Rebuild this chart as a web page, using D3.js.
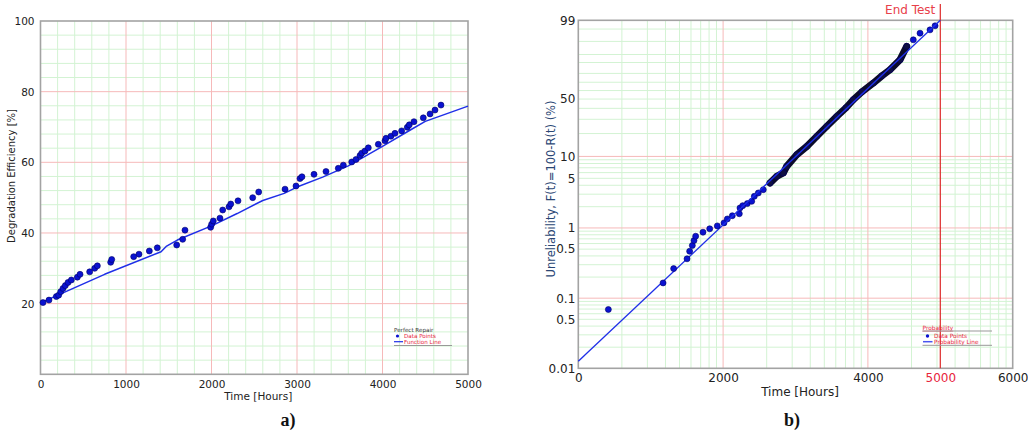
<!DOCTYPE html>
<html>
<head>
<meta charset="utf-8">
<script src="https://cdn.jsdelivr.net/npm/d3@7"></script>
<style>
  body { margin: 0; background: #fff; }
  svg { display: block; font-family: "DejaVu Sans", sans-serif; }
</style>
</head>
<body>
<svg id="chart" width="1028" height="432"></svg>
<script>
// ---------- panel a) degradation efficiency ----------
const effTime = [29, 99, 185, 212, 236, 263, 290, 322, 361, 431, 462, 575, 634, 665, 821, 833,
  1090, 1152, 1273, 1366, 1593, 1663, 1690, 1990, 2002, 2021, 2099, 2131, 2205, 2225, 2310,
  2482, 2552, 2860, 2988, 3035, 3058, 3199, 3339, 3483, 3542, 3640, 3690, 3737, 3757, 3795,
  3834, 3951, 4029, 4041, 4099, 4146, 4224, 4290, 4313, 4368, 4477, 4556, 4614, 4684];
const effValue = [20.3, 21.0, 22.0, 22.4, 23.4, 24.3, 25.1, 26.0, 26.7, 27.5, 28.3, 29.0, 30.0, 30.7, 31.7, 32.5,
  33.3, 34.0, 34.9, 35.8, 36.6, 38.2, 40.8, 41.6, 42.5, 43.4, 44.2, 46.5, 47.4, 48.2, 49.1,
  50.0, 51.6, 52.4, 53.3, 55.4, 55.9, 56.6, 57.4, 58.3, 59.2, 60.1, 60.8, 61.9, 62.6, 63.2,
  64.1, 65.1, 66.1, 66.8, 67.4, 68.2, 68.9, 69.9, 70.6, 71.5, 72.6, 73.7, 74.8, 76.2];
const fnTime = [0, 750, 1410, 1470, 1600, 2000, 2300, 2600, 2850, 3000, 3300, 3600, 4000, 4300, 4500, 5000];
const fnValue = [20.2, 28.3, 34.7, 36.2, 38.0, 42.0, 45.5, 49.2, 51.2, 53.0, 55.8, 59.0, 64.5, 68.8, 71.6, 75.9];
const effXTicks = [0, 1000, 2000, 3000, 4000, 5000];
const effYTicks = [20, 40, 60, 80, 100];

// ---------- panel b) unreliability (Weibull probability paper) ----------
const probTime = [415, 1171, 1317, 1502, 1538, 1575, 1598, 1621, 1722, 1815, 1920];
const probValue = [0.069, 0.165, 0.264, 0.364, 0.466, 0.563, 0.662, 0.763, 0.870, 0.973, 1.07];
const bandTime = [2012, 2058, 2127, 2224, 2233, 2271, 2334, 2395, 2431, 2486, 2555, 2648, 2740, 2832,
  2878, 3017, 3155, 3293, 3431, 3569, 3698, 3798, 3919, 4075, 4195, 4305, 4443, 4536, 4627, 4720, 4858, 4928];
const bandValue = [1.18, 1.34, 1.49, 1.59, 1.92, 2.07, 2.21, 2.38, 2.80, 3.12, 3.47, 4.31, 5.32, 5.93,
  7.31, 10.55, 13.6, 18.4, 24.6, 32.4, 40.6, 49.2, 58.6, 69.0, 77.5, 83.7, 91.9, 98.0, 99.22, 99.76, 99.88, 99.954];
const lineTime = [0, 5000];
const lineValue = [0.0126, 99.99];
const probXTicks = [0, 2000, 4000, 5000, 6000];
const probYTicks = [0.01, 0.05, 0.1, 0.5, 1, 5, 10, 50, 99.99];
const probYLabels = ["0.01", "0.5", "0.1", "0.5", "1", "5", "10", "50", "99"];
const endTest = 5000;

const svg = d3.select("#chart");
const majorColor = "#f6b9b9", minorColor = "#d3f3d3", frameColor = "#a3a3a3";
const dotFill = "#0a12d0", dotEdge = "#000066";

// ================= panel a =================
const xA = d3.scaleLinear().domain([0, 5000]).range([40.5, 468]);
const yA = d3.scaleLinear().domain([0, 100]).range([374.3, 21]);
const gA = svg.append("g");

// minor grid
gA.append("g").selectAll("line").data(d3.range(200, 5000, 200).filter(d => d % 1000))
  .join("line")
  .attr("x1", d => xA(d)).attr("x2", d => xA(d)).attr("y1", yA(0)).attr("y2", yA(100))
  .attr("stroke", minorColor).attr("stroke-width", 1);
gA.append("g").selectAll("line").data(d3.range(4, 100, 4).filter(d => d % 20))
  .join("line")
  .attr("y1", d => yA(d)).attr("y2", d => yA(d)).attr("x1", xA(0)).attr("x2", xA(5000))
  .attr("stroke", minorColor).attr("stroke-width", 1);
// major grid
gA.append("g").selectAll("line").data(effXTicks.slice(1, -1))
  .join("line")
  .attr("x1", d => xA(d)).attr("x2", d => xA(d)).attr("y1", yA(0)).attr("y2", yA(100))
  .attr("stroke", majorColor);
gA.append("g").selectAll("line").data(effYTicks.slice(0, -1))
  .join("line")
  .attr("y1", d => yA(d)).attr("y2", d => yA(d)).attr("x1", xA(0)).attr("x2", xA(5000))
  .attr("stroke", majorColor);

// frame
gA.append("rect")
  .attr("x", xA(0)).attr("y", yA(100))
  .attr("width", xA(5000) - xA(0)).attr("height", yA(0) - yA(100))
  .attr("fill", "none").attr("stroke", frameColor).attr("stroke-width", 1.6);

// axes
const axA_x = gA.append("g").attr("transform", `translate(0,${yA(0)})`)
  .call(d3.axisBottom(xA).tickValues(effXTicks).tickSize(0).tickPadding(6).tickFormat(d3.format("d")));
const axA_y = gA.append("g").attr("transform", `translate(${xA(0)},0)`)
  .call(d3.axisLeft(yA).tickValues(effYTicks).tickSize(0).tickPadding(6));
[axA_x, axA_y].forEach(a => {
  a.select(".domain").remove();
  a.selectAll("text").attr("font-size", 10.5).attr("fill", "#222").attr("font-family", "DejaVu Sans");
});

// function line
const lineA = d3.line().x(i => xA(fnTime[i])).y(i => yA(fnValue[i]));
gA.append("path").attr("d", lineA(d3.range(fnTime.length)))
  .attr("fill", "none").attr("stroke", "#1f2fe8").attr("stroke-width", 1.5)
  .attr("stroke-linejoin", "round");

// data points
gA.append("g").selectAll("circle").data(d3.range(effTime.length))
  .join("circle")
  .attr("cx", i => xA(effTime[i])).attr("cy", i => yA(effValue[i])).attr("r", 3)
  .attr("fill", dotFill).attr("stroke", dotEdge).attr("stroke-width", 0.6);

// titles
svg.append("text").attr("x", xA(2500) + 4).attr("y", 400)
  .attr("text-anchor", "middle").attr("font-size", 10.5).attr("fill", "#222")
  .text("Time [Hours]");
svg.append("text").attr("transform", "translate(15,176) rotate(-90)")
  .attr("text-anchor", "middle").attr("font-size", 10).attr("fill", "#222")
  .text("Degradation Efficiency [%]");

// legend a
const legA = svg.append("g").attr("font-size", 5.6).attr("font-family", "DejaVu Sans");
legA.append("text").attr("x", 394).attr("y", 332).attr("fill", "#333").text("Perfect Repair");
legA.append("circle").attr("cx", 397.5).attr("cy", 336).attr("r", 1.6).attr("fill", dotFill);
legA.append("text").attr("x", 404).attr("y", 337.8).attr("fill", "#e8243c").text("Data Points");
legA.append("line").attr("x1", 394).attr("x2", 403).attr("y1", 341.7).attr("y2", 341.7)
  .attr("stroke", "#1f2fe8").attr("stroke-width", 1.2);
legA.append("text").attr("x", 404).attr("y", 343.8).attr("fill", "#e8243c").text("Function Line");
legA.append("line").attr("x1", 394).attr("x2", 452).attr("y1", 345.5).attr("y2", 345.5)
  .attr("stroke", "#999").attr("stroke-width", 1);

// ================= panel b =================
const weib = p => Math.log(-Math.log(1 - p / 100));
const xB = d3.scaleLinear().domain([0, 6000]).range([578.3, 1012.7]);
const wB = d3.scaleLinear().domain([weib(0.01), weib(99.99)]).range([368.3, 20.3]);
const yB = p => wB(weib(p));
const gB = svg.append("g");

// minor vertical grid (log subdivisions within each 2000 h band)
const vMinor = [];
[0, 2000, 4000].forEach(a => d3.range(2, 10).forEach(k => vMinor.push(a + 2000 * Math.log10(k))));
gB.append("g").selectAll("line").data(vMinor)
  .join("line")
  .attr("x1", d => xB(d)).attr("x2", d => xB(d)).attr("y1", yB(0.01)).attr("y2", yB(99.99))
  .attr("stroke", minorColor);
// minor horizontal grid
const hMinor = [];
[0.01, 0.1, 1].forEach(dec => d3.range(2, 10).forEach(k => hMinor.push(dec * k)));
[20, 30, 40, 50, 60, 70, 80, 90, 95, 99, 99.9].forEach(v => hMinor.push(v));
gB.append("g").selectAll("line").data(hMinor)
  .join("line")
  .attr("y1", d => yB(d)).attr("y2", d => yB(d)).attr("x1", xB(0)).attr("x2", xB(6000))
  .attr("stroke", minorColor);
// major grid
gB.append("g").selectAll("line").data([2000, 4000])
  .join("line")
  .attr("x1", d => xB(d)).attr("x2", d => xB(d)).attr("y1", yB(0.01)).attr("y2", yB(99.99))
  .attr("stroke", majorColor);
gB.append("g").selectAll("line").data([0.1, 1, 10])
  .join("line")
  .attr("y1", d => yB(d)).attr("y2", d => yB(d)).attr("x1", xB(0)).attr("x2", xB(6000))
  .attr("stroke", majorColor);

// frame
gB.append("rect")
  .attr("x", xB(0)).attr("y", yB(99.99))
  .attr("width", xB(6000) - xB(0)).attr("height", yB(0.01) - yB(99.99))
  .attr("fill", "none").attr("stroke", frameColor).attr("stroke-width", 1.6);

// axes
const axB_x = gB.append("g").attr("transform", `translate(0,${yB(0.01)})`)
  .call(d3.axisBottom(xB).tickValues(probXTicks).tickSize(0).tickPadding(5).tickFormat(d3.format("d")));
const axB_y = gB.append("g").attr("transform", `translate(${xB(0)},0)`)
  .call(d3.axisLeft(wB).tickValues(probYTicks.map(weib)).tickSize(0).tickPadding(3)
    .tickFormat((d, i) => probYLabels[i]));
[axB_x, axB_y].forEach(a => {
  a.select(".domain").remove();
  a.selectAll("text").attr("font-size", 12).attr("fill", "#222").attr("font-family", "DejaVu Sans");
});
axB_x.selectAll("text").filter(d => d === endTest).attr("fill", "#e8243c");

// end test marker
gB.append("line").attr("x1", xB(endTest)).attr("x2", xB(endTest)).attr("y1", 4).attr("y2", yB(0.01))
  .attr("stroke", "#dd2a2a").attr("stroke-width", 1.2);
svg.append("text").attr("x", xB(endTest) - 5).attr("y", 14)
  .attr("text-anchor", "end").attr("font-size", 12).attr("fill", "#e8404a").text("End Test");

// dense band of points (overlapping markers)
const bandLine = d3.line().x(i => xB(bandTime[i])).y(i => yB(bandValue[i]));
const bandIdx = d3.range(bandTime.length).filter(i => bandTime[i] >= 2640 && bandTime[i] <= 4540);
gB.append("path").attr("d", bandLine(bandIdx))
  .attr("fill", "none").attr("stroke", "#0b0b2a").attr("stroke-width", 7)
  .attr("stroke-linecap", "round").attr("stroke-linejoin", "round");

gB.append("g").selectAll("circle").data(d3.range(bandTime.length))
  .join("circle")
  .attr("cx", i => xB(bandTime[i])).attr("cy", i => yB(bandValue[i])).attr("r", 3)
  .attr("fill", i => (bandTime[i] >= 2640 && bandTime[i] <= 4540) ? "#101040" : dotFill)
  .attr("stroke", dotEdge).attr("stroke-width", 0.6);

// probability line
const probLine = d3.line().x(i => xB(lineTime[i])).y(i => yB(lineValue[i]));
gB.append("path").attr("d", probLine([0, 1]))
  .attr("fill", "none").attr("stroke", "#1f2fe8").attr("stroke-width", 1.3);

// scattered early points
gB.append("g").selectAll("circle").data(d3.range(probTime.length))
  .join("circle")
  .attr("cx", i => xB(probTime[i])).attr("cy", i => yB(probValue[i])).attr("r", 3)
  .attr("fill", dotFill).attr("stroke", dotEdge).attr("stroke-width", 0.6);

// titles
svg.append("text").attr("x", 800).attr("y", 396)
  .attr("text-anchor", "middle").attr("font-size", 12).attr("fill", "#222")
  .text("Time [Hours]");
svg.append("text").attr("transform", "translate(555,189) rotate(-90)")
  .attr("text-anchor", "middle").attr("font-size", 11.5).attr("fill", "#2a4674")
  .text("Unreliability, F(t)=100-R(t) (%)");

// legend b
const legB = svg.append("g").attr("font-size", 5.8).attr("font-family", "DejaVu Sans");
legB.append("text").attr("x", 922.5).attr("y", 329.8).attr("fill", "#e8243c")
  .attr("text-decoration", "underline").text("Probability");
legB.append("line").attr("x1", 922.5).attr("x2", 992).attr("y1", 331).attr("y2", 331)
  .attr("stroke", "#999");
legB.append("circle").attr("cx", 927.5).attr("cy", 336).attr("r", 1.7).attr("fill", dotFill);
legB.append("text").attr("x", 934).attr("y", 337.8).attr("fill", "#e8243c").text("Data Points");
legB.append("line").attr("x1", 923).attr("x2", 932.5).attr("y1", 341.7).attr("y2", 341.7)
  .attr("stroke", "#4a55f0").attr("stroke-width", 1.5);
legB.append("text").attr("x", 934).attr("y", 343.9).attr("fill", "#e8243c").text("Probability Line");
legB.append("line").attr("x1", 922.5).attr("x2", 992).attr("y1", 345.3).attr("y2", 345.3)
  .attr("stroke", "#999");

// captions
svg.append("text").attr("x", 288).attr("y", 426).attr("text-anchor", "middle")
  .attr("font-family", "Liberation Serif, serif").attr("font-weight", "bold").attr("font-size", 18)
  .attr("fill", "#111").text("a)");
svg.append("text").attr("x", 792).attr("y", 426).attr("text-anchor", "middle")
  .attr("font-family", "Liberation Serif, serif").attr("font-weight", "bold").attr("font-size", 18)
  .attr("fill", "#111").text("b)");
</script>
</body>
</html>
